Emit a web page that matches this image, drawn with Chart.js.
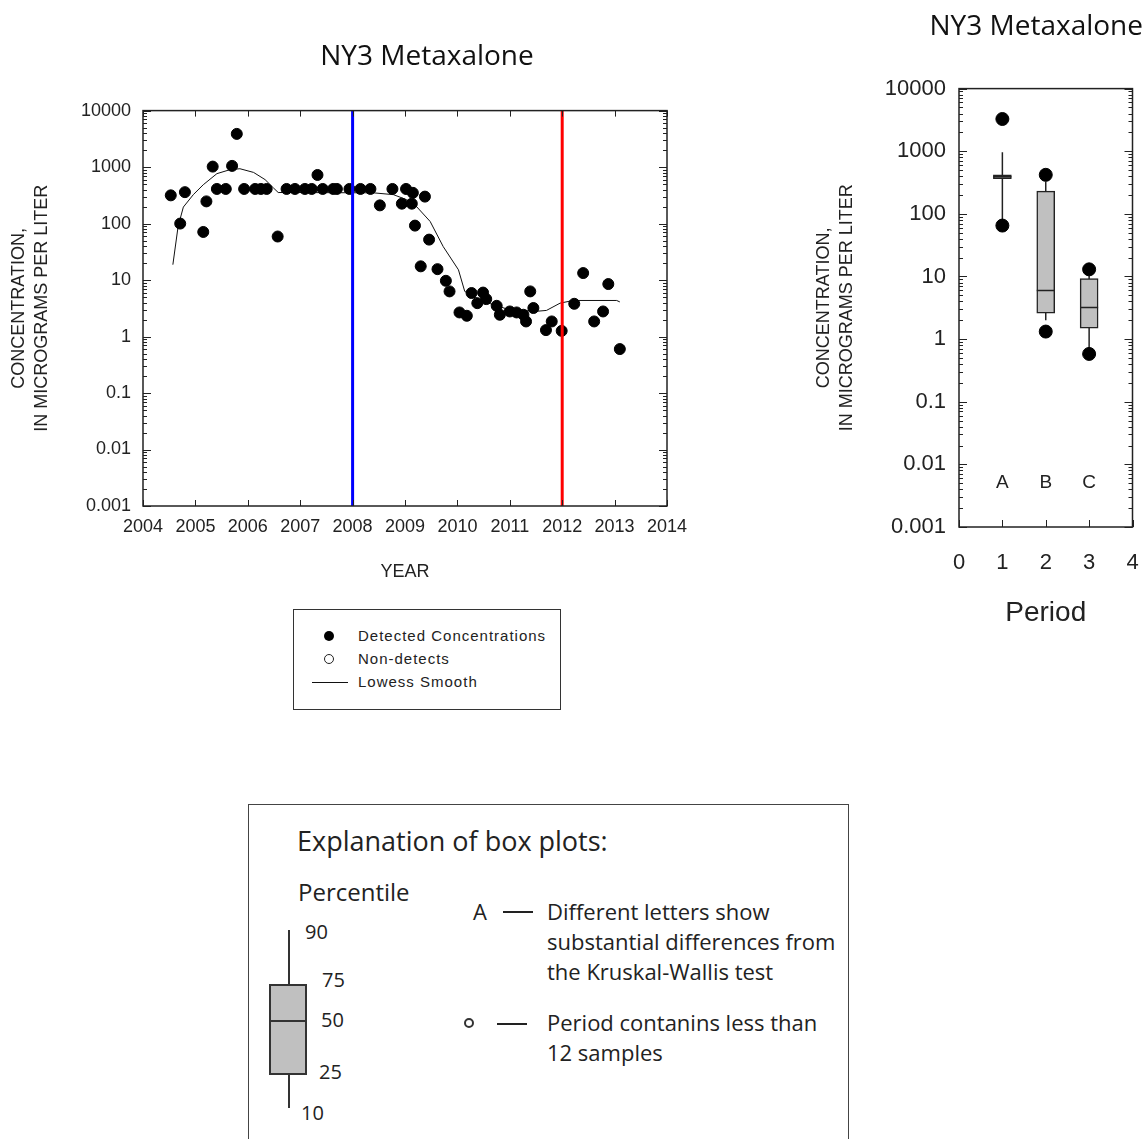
<!DOCTYPE html>
<html>
<head>
<meta charset="utf-8">
<script src="https://cdn.jsdelivr.net/npm/chart.js@4"></script>
<style>
html,body{margin:0;padding:0;background:#fff;overflow:hidden;width:1146px;height:1139px;}
canvas{position:absolute;}
.abs{position:absolute;white-space:nowrap;}
.lg{font-family:"Liberation Sans",Arial,sans-serif;font-size:15px;letter-spacing:1px;line-height:20px;color:#222;}
.ex{font-family:"Open Sans",sans-serif;color:#222;}
</style>
</head>
<body>
<canvas id="timeChart" width="854" height="600" style="left:0;top:0"></canvas>
<canvas id="boxChart" width="343" height="650" style="left:800px;top:0"></canvas>

<!-- legend of the time series -->
<div class="abs" style="left:293px;top:609px;width:268px;height:101px;border:1.5px solid #333;box-sizing:border-box"></div>
<div class="abs" style="left:324px;top:631px;width:10px;height:10px;border-radius:50%;background:#000"></div>
<div class="abs" style="left:324px;top:654px;width:10px;height:10px;border-radius:50%;border:1.5px solid #222;box-sizing:border-box"></div>
<div class="abs" style="left:312px;top:682px;width:36px;height:1px;background:#111"></div>
<div class="abs lg" style="left:358px;top:626px">Detected Concentrations</div>
<div class="abs lg" style="left:358px;top:649px">Non-detects</div>
<div class="abs lg" style="left:358px;top:672px">Lowess Smooth</div>

<!-- explanation of box plots -->
<div class="abs" style="left:248px;top:804px;width:601px;height:400px;border:1.5px solid #444;box-sizing:border-box"></div>
<div class="abs ex" style="left:297px;top:822px;font-size:27px;line-height:38px">Explanation of box plots:</div>
<div class="abs ex" style="left:298px;top:875px;font-size:24px;line-height:34px">Percentile</div>
<div class="abs" style="left:288px;top:930px;width:2px;height:178px;background:#333"></div>
<div class="abs" style="left:269px;top:984px;width:38px;height:91px;background:#c0c0c0;border:2px solid #333;box-sizing:border-box"></div>
<div class="abs" style="left:269px;top:1020px;width:38px;height:2px;background:#333"></div>
<div class="abs ex" style="left:305px;top:917px;font-size:20px;line-height:30px">90</div>
<div class="abs ex" style="left:322px;top:965px;font-size:20px;line-height:30px">75</div>
<div class="abs ex" style="left:321px;top:1005px;font-size:20px;line-height:30px">50</div>
<div class="abs ex" style="left:319px;top:1057px;font-size:20px;line-height:30px">25</div>
<div class="abs ex" style="left:301px;top:1098px;font-size:20px;line-height:30px">10</div>
<div class="abs ex" style="left:473px;top:896px;font-size:22px;line-height:30px">A</div>
<div class="abs" style="left:503px;top:911px;width:30px;height:1.5px;background:#222"></div>
<div class="abs ex" style="left:547px;top:896px;font-size:22px;line-height:30px">Different letters show<br>substantial differences from<br>the Kruskal-Wallis test</div>
<div class="abs" style="left:464px;top:1018px;width:10px;height:10px;border-radius:50%;border:2px solid #333;box-sizing:border-box"></div>
<div class="abs" style="left:497px;top:1023px;width:30px;height:1.5px;background:#222"></div>
<div class="abs ex" style="left:547px;top:1007px;font-size:22px;line-height:30px">Period contanins less than<br>12 samples</div>

<script>
// ---- time series data ----
const sampleYears = [2004.53, 2004.71, 2004.80, 2005.15, 2005.21, 2005.33, 2005.41, 2005.58, 2005.70, 2005.79,
  2005.93, 2006.14, 2006.25, 2006.36, 2006.57, 2006.74, 2006.90, 2007.09, 2007.22, 2007.33,
  2007.43, 2007.63, 2007.70, 2007.94, 2008.15, 2008.34, 2008.52, 2008.76, 2008.94, 2009.02,
  2009.13, 2009.15, 2009.19, 2009.30, 2009.38, 2009.46, 2009.62, 2009.78, 2009.85, 2010.04,
  2010.18, 2010.27, 2010.38, 2010.49, 2010.55, 2010.75, 2010.81, 2011.00, 2011.13, 2011.26,
  2011.31, 2011.39, 2011.45, 2011.69, 2011.80, 2011.99, 2012.23, 2012.40, 2012.61, 2012.78,
  2012.88, 2013.10];
const detectedConc = [316, 100, 360, 71, 247, 1020, 410, 410, 1050, 3870,
  410, 410, 410, 410, 59, 410, 410, 410, 410, 725,
  410, 410, 410, 410, 410, 410, 210, 410, 225, 410,
  225, 350, 92, 17.5, 300, 52, 15.6, 9.7, 6.3, 2.67,
  2.33, 5.9, 3.9, 6.0, 4.6, 3.5, 2.43, 2.78, 2.67, 2.43,
  1.85, 6.3, 3.2, 1.3, 1.85, 1.26, 3.8, 13.3, 1.85, 2.78,
  8.5, 0.6];
const nonDetectYears = [];
const nonDetectConc = [];
const lowessYears = [2004.57, 2004.67, 2004.77, 2004.96, 2005.15, 2005.41, 2005.66, 2005.85, 2006.11, 2006.33,
  2006.49, 2006.58, 2008.40, 2008.78, 2009.03, 2009.16, 2009.48, 2009.73, 2010.02, 2010.14,
  2010.37, 2010.68, 2011.00, 2011.51, 2011.70, 2011.96, 2012.21, 2013.04, 2013.10];
const lowessConc = [18.7, 89, 196, 325, 487, 765, 900, 935, 805, 600,
  427, 355, 350, 325, 265, 230, 109, 39, 15.2, 6.3,
  4.8, 3.65, 2.98, 2.8, 2.9, 3.9, 4.35, 4.35, 4.1];
const periodBreaks = [2008, 2012];
const periodBreakColors = ['#0000ff', '#ff0000'];
const yearTicks = [2004, 2014];
const concRange = [0.001, 10000];
const yTickLabels = ['0.001', '0.01', '0.1', '1', '10', '100', '1000', '10000'];

// ---- box plot data ----
const periods = [1, 2, 3];
const groupLetters = ['A', 'B', 'C'];
const p10 = [75, 2.0, 0.72];
const p25 = [363, 2.6, 1.5];
const p50 = [390, 6.0, 3.2];
const p75 = [420, 230, 9.3];
const p90 = [960, 330, 10.5];
const outlierPeriod = [1, 1, 2, 2, 3, 3];
const outlierConc = [3270, 65, 420, 1.32, 13, 0.58];
const letterLevel = 0.005;

Chart.defaults.font.family = '"Liberation Sans", Arial, sans-serif';
Chart.defaults.color = '#222';

function decadeLabel(v) {
  const e = Math.log10(v), r = Math.round(e);
  return Math.abs(e - r) < 1e-6 ? yTickLabels[r + 3] : '';
}

// frame and inward tick marks on all sides
const frameTicks = {
  id: 'frameTicks',
  afterDraw(chart, args, opts) {
    const {ctx, chartArea: a, scales} = chart;
    const x = scales.x, y = scales.y;
    ctx.save();
    ctx.strokeStyle = '#222';
    ctx.lineWidth = 1;
    ctx.beginPath();
    const lo = Math.round(Math.log10(y.min)), hi = Math.round(Math.log10(y.max));
    for (let e = lo; e <= hi; e++) {
      for (let m = 1; m <= 9; m++) {
        const v = m * Math.pow(10, e);
        if (v > y.max * 1.0001) break;
        const py = Math.round(y.getPixelForValue(v)) + 0.5;
        const len = m === 1 ? opts.major : opts.minor;
        ctx.moveTo(a.left, py); ctx.lineTo(a.left + len, py);
        ctx.moveTo(a.right, py); ctx.lineTo(a.right - len, py);
      }
    }
    for (let v = x.min; v <= x.max + 1e-9; v += opts.xStep) {
      const px = Math.round(x.getPixelForValue(v)) + 0.5;
      ctx.moveTo(px, a.bottom); ctx.lineTo(px, a.bottom - opts.xLen);
      if (opts.top) { ctx.moveTo(px, a.top); ctx.lineTo(px, a.top + opts.xLen); }
    }
    ctx.stroke();
    ctx.lineWidth = 1.5;
    ctx.strokeRect(a.left, a.top, a.right - a.left, a.bottom - a.top);
    ctx.restore();
  }
};

const letterLabels = {
  id: 'letterLabels',
  afterDatasetsDraw(chart) {
    const {ctx, scales} = chart;
    ctx.save();
    ctx.font = '19px "Liberation Sans", Arial, sans-serif';
    ctx.fillStyle = '#222';
    ctx.textAlign = 'center';
    ctx.textBaseline = 'middle';
    periods.forEach((p, i) => {
      ctx.fillText(groupLetters[i], scales.x.getPixelForValue(p), scales.y.getPixelForValue(letterLevel));
    });
    ctx.restore();
  }
};

const titleFont = {family: '"Open Sans", sans-serif', size: 28, weight: 'normal'};
const noGrid = {display: false, drawTicks: false};

new Chart(document.getElementById('timeChart'), {
  type: 'scatter',
  data: {
    datasets: [
      ...periodBreaks.map((yr, i) => ({
        type: 'line', label: 'Period break ' + (i + 1),
        data: [{x: yr, y: concRange[0]}, {x: yr, y: concRange[1]}],
        borderColor: periodBreakColors[i], borderWidth: 3, pointRadius: 0
      })),
      {
        label: 'Detected Concentrations',
        data: sampleYears.map((x, i) => ({x: x, y: detectedConc[i]})),
        pointRadius: 5.5, backgroundColor: '#000', borderColor: '#000'
      },
      {
        label: 'Non-detects',
        data: nonDetectYears.map((x, i) => ({x: x, y: nonDetectConc[i]})),
        pointRadius: 5, backgroundColor: '#fff', borderColor: '#000'
      },
      {
        type: 'line', label: 'Lowess Smooth',
        data: lowessYears.map((x, i) => ({x: x, y: lowessConc[i]})),
        borderColor: '#111', borderWidth: 1, pointRadius: 0, tension: 0
      }
    ]
  },
  options: {
    responsive: false,
    animation: false,
    events: [],
    plugins: {
      legend: {display: false},
      tooltip: {enabled: false},
      title: {display: true, text: 'NY3 Metaxalone', font: titleFont, color: '#111', padding: {top: 40, bottom: 37}},
      frameTicks: {major: 8, minor: 4, xStep: 1, xLen: 6, top: true}
    },
    scales: {
      x: {
        type: 'linear', min: yearTicks[0], max: yearTicks[1], position: 'bottom', offset: false,
        ticks: {stepSize: 1, autoSkip: false, maxRotation: 0, padding: 10, font: {size: 18}, callback: v => String(v)},
        grid: noGrid, border: {display: false},
        title: {display: true, text: 'YEAR', font: {size: 18}, padding: {top: 0, bottom: 17}},
        afterFit(s) { s.height = 94; }
      },
      y: {
        type: 'logarithmic', min: concRange[0], max: concRange[1], position: 'left',
        ticks: {autoSkip: false, padding: 12, font: {size: 18}, callback: decadeLabel},
        grid: noGrid, border: {display: false},
        title: {display: true, text: ['CONCENTRATION,', 'IN MICROGRAMS PER LITER'], font: {size: 18, lineHeight: '23px'}, padding: {top: 7.5, bottom: 0}},
        afterFit(s) { s.width = 143; }
      },
      y2: {
        position: 'right', display: true,
        ticks: {display: false}, grid: noGrid, border: {display: false},
        afterFit(s) { s.width = 187; }
      }
    }
  },
  plugins: [frameTicks]
});

const whiskerPoints = [];
periods.forEach((p, i) => {
  whiskerPoints.push({x: p, y: p10[i]}, {x: p, y: p90[i]}, {x: p, y: null});
});

new Chart(document.getElementById('boxChart'), {
  type: 'scatter',
  data: {
    datasets: [
      {
        label: 'Outside values',
        data: outlierPeriod.map((p, i) => ({x: p, y: outlierConc[i]})),
        pointRadius: 6.5, backgroundColor: '#000', borderColor: '#000'
      },
      {
        label: 'Median',
        data: periods.map((p, i) => ({x: p, y: p50[i]})),
        pointStyle: 'line', pointRadius: 9, borderColor: '#222', borderWidth: 1.5
      },
      {
        type: 'bar', label: 'Interquartile range',
        data: periods.map((p, i) => ({x: p, y: [p25[i], p75[i]]})),
        backgroundColor: '#c0c0c0', borderColor: '#222', borderWidth: 1.5,
        borderSkipped: false, barThickness: 18, grouped: false
      },
      {
        type: 'line', label: 'Whiskers', data: whiskerPoints,
        borderColor: '#222', borderWidth: 1.5, pointRadius: 0, spanGaps: false
      }
    ]
  },
  options: {
    responsive: false,
    animation: false,
    events: [],
    plugins: {
      legend: {display: false},
      tooltip: {enabled: false},
      title: {display: true, text: 'NY3 Metaxalone', align: 'end', font: titleFont, color: '#111', padding: {top: 10, bottom: 45}},
      frameTicks: {major: 8, minor: 4, xStep: 1, xLen: 7, top: false}
    },
    scales: {
      x: {
        type: 'linear', min: 0, max: 4, offset: false,
        ticks: {stepSize: 1, autoSkip: false, maxRotation: 0, padding: 0, font: {size: 22}},
        // invisible tick length only pushes the labels down
        grid: {display: false, drawTicks: true, tickLength: 23}, border: {display: false},
        title: {display: true, text: 'Period', font: {size: 28}, padding: {top: 0, bottom: 20}},
        afterFit(s) { s.height = 123; }
      },
      y: {
        type: 'logarithmic', min: concRange[0], max: concRange[1], position: 'left',
        ticks: {autoSkip: false, padding: 13, font: {size: 22}, callback: decadeLabel},
        grid: noGrid, border: {display: false},
        title: {display: true, text: ['CONCENTRATION,', 'IN MICROGRAMS PER LITER'], font: {size: 18, lineHeight: '23px'}, padding: {top: 12.5, bottom: 0}},
        afterFit(s) { s.width = 159; }
      },
      y2: {
        position: 'right', display: true,
        ticks: {display: false}, grid: noGrid, border: {display: false},
        afterFit(s) { s.width = 10; }
      }
    }
  },
  plugins: [frameTicks, letterLabels]
});
</script>
</body>
</html>
